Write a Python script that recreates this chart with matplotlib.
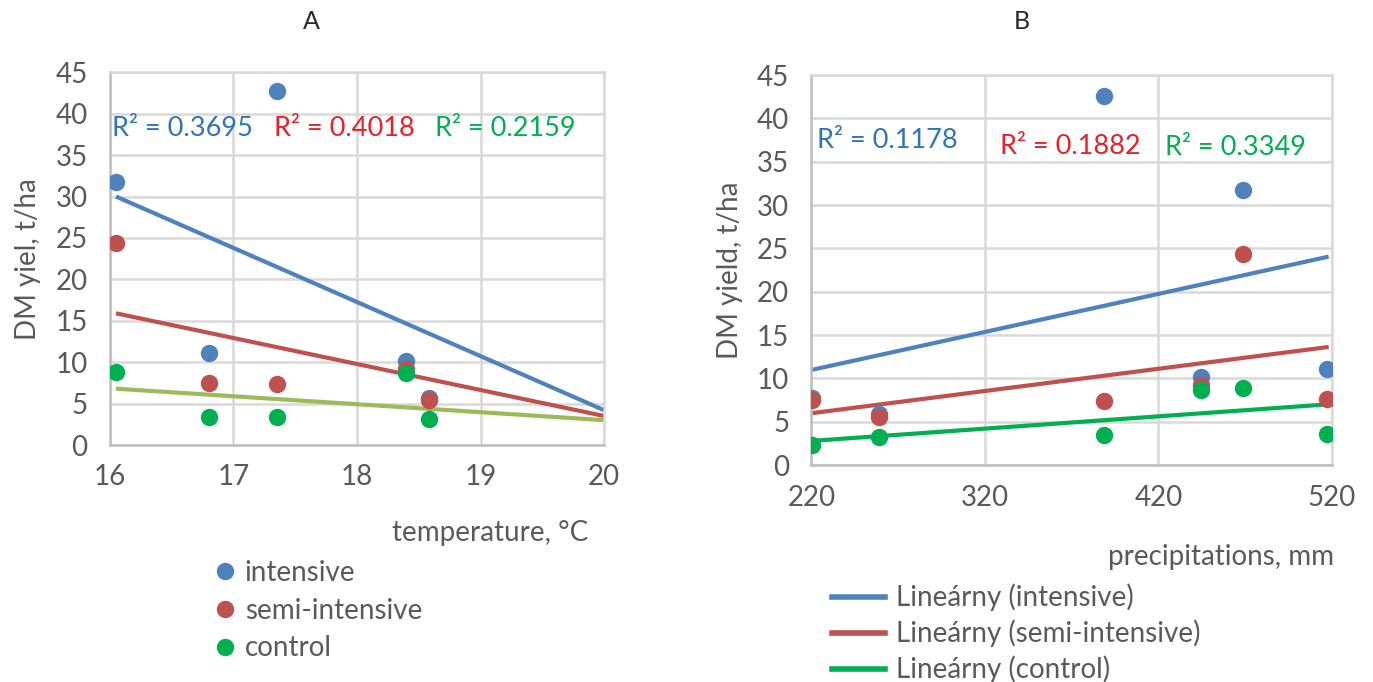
import matplotlib.pyplot as plt

# datos
series = ["intensive", "semi-intensive", "control"]
temp_a = [16.05, 16.8, 17.35, 18.4, 18.58]
yield_a = {
    "intensive": [31.8, 11.1, 42.8, 10.1, 5.7],
    "semi-intensive": [24.4, 7.5, 7.4, 9.2, 5.4],
    "control": [8.8, 3.4, 3.4, 8.7, 3.1],
}
precip_b = [220.5, 259, 388.5, 444.5, 468.7, 517]
yield_b = {
    "intensive": [7.7, 5.9, 42.6, 10.2, 31.7, 11.1],
    "semi-intensive": [7.5, 5.5, 7.4, 9.2, 24.3, 7.6],
    "control": [2.3, 3.2, 3.5, 8.7, 8.9, 3.6],
}
# lineas de tendencia (inicio, fin)
trend_x_a = [16.05, 20]
trend_a = {"intensive": [30.0, 4.2], "semi-intensive": [15.9, 3.5], "control": [6.8, 3.0]}
trend_x_b = [220.5, 517]
trend_b = {"intensive": [11.0, 24.0], "semi-intensive": [6.0, 13.6], "control": [2.8, 7.0]}
r2_a = ["R² = 0.3695", "R² = 0.4018", "R² = 0.2159"]
r2_b = ["R² = 0.1178", "R² = 0.1882", "R² = 0.3349"]

marker_col = {"intensive": "#4F81BD", "semi-intensive": "#C0504D", "control": "#00B050"}
line_col_a = {"intensive": "#4F81BD", "semi-intensive": "#C0504D", "control": "#9BBB59"}
line_col_b = {"intensive": "#4F81BD", "semi-intensive": "#C0504D", "control": "#00B050"}
r2_col = ["#2E75B6", "#E8202A", "#00B050"]

plt.rcParams['font.family'] = ['Lato', 'DejaVu Sans']
gris = "#595959"
fs = 20

fig = plt.figure(figsize=(13.73, 6.82), dpi=100)
ax1 = fig.add_axes([0.080, 0.3475, 0.360, 0.5465])
ax2 = fig.add_axes([0.591, 0.318, 0.379, 0.572])

def estilo(ax):
    ax.set_ylim(0, 45)
    ax.set_yticks(range(0, 46, 5))
    ax.grid(True, color="#D9D9D9", linewidth=1.8)
    ax.set_axisbelow(True)
    for s in ax.spines.values():
        s.set_color("#D9D9D9")
        s.set_linewidth(1.8)
    ax.spines['left'].set_color("#BFBFBF")
    ax.spines['bottom'].set_color("#BFBFBF")
    ax.tick_params(length=0, labelsize=fs, colors=gris)
    ax.tick_params(axis='x', pad=14)
    ax.tick_params(axis='y', pad=16)

# Panel A
estilo(ax1)
ax1.set_xlim(16, 20)
ax1.set_xticks([16, 17, 18, 19, 20])
for s in series:
    ax1.plot(trend_x_a, trend_a[s], color=line_col_a[s], linewidth=3, solid_capstyle='butt', zorder=2)
for s in series:
    ax1.plot(temp_a, yield_a[s], 'o', color=marker_col[s], markersize=11.5, zorder=3, label=s)
for txt, col, x in zip(r2_a, r2_col, [16.02, 17.33, 18.63]):
    ax1.text(x, 38.2, txt, color=col, fontsize=19.5, ha='left', va='center')
ax1.set_ylabel("DM yiel, t/ha", fontsize=fs, color=gris, labelpad=10)
fig.text(0.227, 0.968, "A", fontsize=18, color="#262626", ha='center', va='center')
fig.text(0.357, 0.218, "temperature, °C", fontsize=fs, color=gris, ha='center', va='center')
ax1.legend(loc='upper left', bbox_to_anchor=(0.156, 0.179), bbox_transform=fig.transFigure,
           frameon=False, fontsize=fs, labelcolor=gris, handlelength=0.8, handletextpad=0.3,
           labelspacing=0.42, borderaxespad=0, borderpad=0)

# Panel B
estilo(ax2)
ax2.set_xlim(220, 520)
ax2.set_xticks([220, 320, 420, 520])
for s in series:
    ax2.plot(trend_x_b, trend_b[s], color=line_col_b[s], linewidth=3, zorder=2,
             label="Lineárny (" + s + ")")
for s in series:
    ax2.plot(precip_b, yield_b[s], 'o', color=marker_col[s], markersize=11.5, zorder=3)
for txt, col, x, y in zip(r2_b, r2_col, [223, 328.5, 423.7], [37.4, 36.8, 36.6]):
    ax2.text(x, y, txt, color=col, fontsize=19.5, ha='left', va='center')
ax2.set_ylabel("DM yield, t/ha", fontsize=fs, color=gris, labelpad=10)
fig.text(0.744, 0.968, "B", fontsize=18, color="#262626", ha='center', va='center')
fig.text(0.889, 0.183, "precipitations, mm", fontsize=fs, color=gris, ha='center', va='center')
leg = ax2.legend(loc='upper left', bbox_to_anchor=(0.606, 0.144), bbox_transform=fig.transFigure,
                 frameon=False, fontsize=fs, labelcolor=gris, handlelength=1.9, handletextpad=0.4,
                 labelspacing=0.3, borderaxespad=0, borderpad=0)
for h in leg.get_lines():
    h.set_linewidth(4)

fig.savefig("out.png", dpi=100, facecolor="white")
